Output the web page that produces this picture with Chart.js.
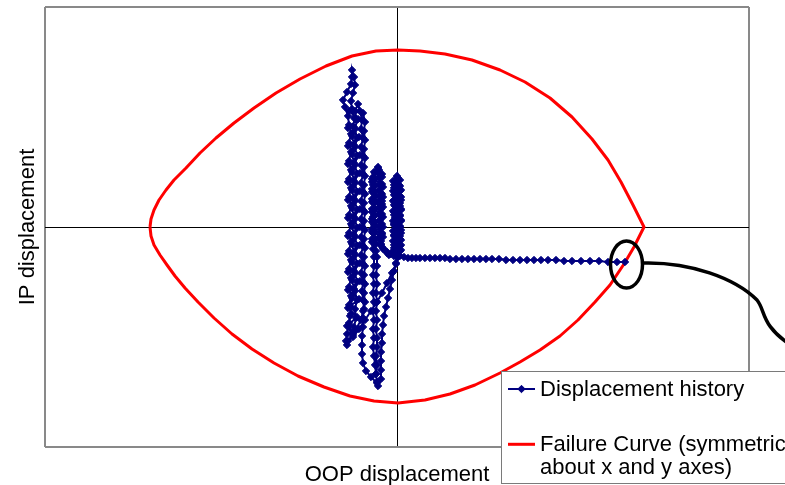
<!DOCTYPE html>
<html>
<head>
<meta charset="utf-8">
<script src="https://cdn.jsdelivr.net/npm/chart.js@4.4.1/dist/chart.umd.min.js"></script>
<style>
  html, body { margin: 0; padding: 0; background: #fff; overflow: hidden; }
  canvas { display: block; }
</style>
</head>
<body>
<canvas id="chart" width="785" height="485"></canvas>
<script>
// ---- text ----
const xTitle = 'OOP displacement';
const yTitle = 'IP displacement';
const historyLabel = 'Displacement history';
const failureLabel = ['Failure Curve (symmetric', 'about x and y axes)'];

// ---- axis extents (symmetric, no tick labels) ----
const xRange = [-35.2, 35.2];
const yRange = [-22, 22];
const axisTicksX = [-35.2, 0, 35.2];
const axisTicksY = [-22, 0, 22];

// ---- failure envelope: upper arc left -> right, lower arc right -> left ----
const failureUpper = [
  [-24.7, 0], [-24.6, 0.8], [-24.3, 1.7], [-23.8, 2.7], [-23.1, 3.7], [-22.3, 4.7],
  [-21.1, 5.9], [-19.7, 7.4], [-18.1, 8.9], [-16.3, 10.4], [-14.3, 11.9], [-12.1, 13.4],
  [-9.7, 14.8], [-7.1, 16.1], [-4.5, 17.1], [-2.1, 17.6], [0.1, 17.7], [2.3, 17.6],
  [4.8, 17.3], [7.5, 16.7], [10.3, 15.7], [12.8, 14.5], [15.3, 12.9], [17.5, 11.0],
  [19.5, 8.8], [21.1, 6.7], [22.4, 4.5], [23.6, 2.2], [24.7, 0]
];
const failureLower = [
  [23.7, -2.0], [22.7, -3.7], [21.3, -5.8], [19.8, -7.5], [18.1, -9.3], [16.3, -10.9],
  [14.3, -12.3], [12.3, -13.5], [10.3, -14.6], [7.8, -15.8], [5.3, -16.7], [2.8, -17.3],
  [0.1, -17.6], [-2.3, -17.4], [-4.7, -16.9], [-7.3, -16.0], [-9.9, -14.9], [-12.3, -13.6],
  [-14.5, -12.2], [-16.5, -10.7], [-18.3, -9.1], [-19.9, -7.5], [-21.2, -6.1], [-22.2, -4.9],
  [-23.0, -3.8], [-23.7, -2.8], [-24.3, -1.8], [-24.6, -0.9], [-24.7, 0]
];

// ---- displacement history, in loading order ----
// small cycles about the origin
const cyclesOrigin = [
  [0.0, 0.0], [0.1, 0.6], [0.2, 1.2], [0.1, 1.8], [0.2, 2.4], [0.1, 3.0], [0.2, 3.6], [0.1, 4.2], [0.0, 4.8], [0.0, 5.1],
  [-0.2, 4.5], [-0.3, 3.9], [-0.2, 3.3], [-0.3, 2.7], [-0.2, 2.1], [-0.3, 1.5], [-0.2, 0.9], [-0.3, 0.3], [-0.2, -0.3],
  [-0.3, -0.9], [-0.2, -1.5], [-0.3, -2.1], [-0.2, -2.7],
  [0.3, -2.4], [0.4, -1.8], [0.3, -1.2], [0.4, -0.6], [0.3, 0.0], [0.4, 0.6], [0.3, 1.2], [0.4, 1.8], [0.3, 2.4],
  [0.4, 3.0], [0.3, 3.6], [0.2, 4.2], [0.1, 4.9],
  [0.0, 4.4], [0.1, 3.8], [0.0, 3.2], [0.1, 2.6], [0.0, 2.0], [0.1, 1.4], [0.0, 0.8], [0.1, 0.2], [0.0, -0.4],
  [0.1, -1.0], [0.0, -1.6], [0.1, -2.2], [0.0, -2.8],
  [0.4, -2.3], [-0.3, -1.8], [0.4, -1.3], [-0.3, -0.8], [0.4, -0.3], [-0.3, 0.2], [0.4, 0.7], [-0.3, 1.2],
  [0.4, 1.7], [-0.3, 2.2], [0.4, 2.7], [-0.3, 3.2], [0.4, 3.7], [-0.3, 4.2], [0.3, 4.7], [0.0, 5.0],
  [-0.4, 4.6], [0.3, 4.1], [-0.4, 3.6], [0.3, 3.1], [-0.4, 2.6], [0.3, 2.1], [-0.4, 1.6], [0.3, 1.1],
  [-0.4, 0.6], [0.3, 0.1], [-0.4, -0.4], [0.3, -0.9], [-0.4, -1.4], [0.3, -1.9], [-0.4, -2.4], [0.2, -2.9]
];
// first offset cycle
const cyclesOffset1 = [
  [-0.6, -2.7], [-1.2, -2.3], [-1.6, -1.7], [-1.8, -1.1], [-1.7, -0.5], [-1.8, 0.1], [-1.7, 0.7], [-1.8, 1.3],
  [-1.7, 1.9], [-1.8, 2.5], [-1.7, 3.1], [-1.8, 3.7], [-1.7, 4.3], [-1.8, 4.9], [-1.9, 5.5], [-1.9, 6.0],
  [-2.2, 5.4], [-2.3, 4.8], [-2.2, 4.2], [-2.3, 3.6], [-2.2, 3.0], [-2.3, 2.4], [-2.2, 1.8], [-2.3, 1.2],
  [-2.3, 0.6], [-2.2, 0.0], [-2.3, -0.6], [-2.2, -1.2], [-2.2, -1.8], [-2.1, -2.4], [-2.0, -3.0],
  [-2.0, -3.9], [-2.1, -4.8], [-2.0, -5.7], [-2.1, -6.6], [-2.0, -7.5], [-2.1, -8.4], [-2.0, -9.3],
  [-2.1, -10.2], [-2.0, -11.1], [-2.0, -12.0], [-2.1, -12.9], [-2.0, -13.8], [-2.1, -14.7], [-2.0, -15.5],
  [-1.9, -15.9], [-1.6, -15.2], [-1.6, -14.3], [-1.6, -13.4], [-1.6, -12.5], [-1.5, -11.6], [-1.5, -10.7],
  [-1.4, -9.8], [-1.3, -8.9], [-1.1, -8.0], [-0.9, -7.1], [-0.7, -6.2], [-0.5, -5.3], [-0.3, -4.4],
  [-0.1, -3.6], [0.0, -3.0]
];
// repeated cycles at the same offset
const cyclesOffsetRepeat = [
  [-1.0, -2.6], [-1.5, -2.0], [-2.5, -1.5], [-1.4, -1.0], [-2.5, -0.5], [-1.4, 0.0], [-2.5, 0.5], [-1.4, 1.0],
  [-2.5, 1.5], [-1.4, 2.0], [-2.5, 2.5], [-1.4, 3.0], [-2.5, 3.5], [-1.4, 4.0], [-2.5, 4.5], [-1.5, 5.0],
  [-2.3, 5.5], [-1.9, 5.9],
  [-1.5, 5.3], [-2.5, 4.8], [-1.5, 4.3], [-2.5, 3.8], [-1.5, 3.3], [-2.5, 2.8], [-1.5, 2.3], [-2.5, 1.8],
  [-1.5, 1.3], [-2.5, 0.8], [-1.5, 0.3], [-2.5, -0.2], [-1.5, -0.7], [-2.5, -1.2], [-1.6, -1.8], [-1.0, -2.5],
  [-0.3, -2.9]
];
// second offset cycle
const cyclesOffset2 = [
  [-0.8, -2.8], [-1.4, -2.2], [-1.6, -1.4], [-1.5, -0.6], [-1.6, 0.2], [-1.5, 1.0], [-1.6, 1.8], [-1.5, 2.6],
  [-1.6, 3.4], [-1.6, 4.2], [-1.7, 5.0], [-1.8, 5.7],
  [-2.4, 5.0], [-2.4, 4.2], [-2.3, 3.4], [-2.4, 2.6], [-2.3, 1.8], [-2.4, 1.0], [-2.3, 0.2], [-2.4, -0.6],
  [-2.3, -1.4], [-2.4, -2.2], [-2.3, -3.0], [-2.3, -3.9], [-2.4, -4.8], [-2.3, -5.7], [-2.4, -6.6],
  [-2.3, -7.5], [-2.4, -8.4], [-2.3, -9.3], [-2.4, -10.2], [-2.3, -11.1], [-2.4, -12.0], [-2.3, -12.9],
  [-2.2, -13.8], [-2.1, -14.7], [-2.0, -15.6],
  [-2.6, -15.0], [-3.1, -14.4], [-3.4, -13.6], [-3.5, -12.7], [-3.5, -11.8], [-3.5, -10.9], [-3.4, -10.0],
  [-3.4, -9.1], [-3.3, -8.2]
];
// larger cycles, shifted further out of plane
const cyclesLarge = [
  [-3.4, -7.3], [-3.5, -6.4], [-3.4, -5.5], [-3.6, -4.6], [-3.4, -3.7], [-3.6, -2.8], [-3.4, -1.9], [-3.6, -1.0],
  [-3.4, -0.1], [-3.6, 0.8], [-3.4, 1.7], [-3.6, 2.6], [-3.4, 3.5], [-3.6, 4.4], [-3.4, 5.3], [-3.6, 6.2],
  [-3.4, 7.1], [-3.6, 8.0], [-3.4, 8.9], [-3.6, 9.8], [-3.5, 10.7], [-3.7, 11.6], [-3.9, 12.3],
  [-4.2, 11.6], [-4.0, 10.7], [-4.2, 9.8], [-4.0, 8.9], [-4.2, 8.0], [-4.0, 7.1], [-4.2, 6.2], [-4.0, 5.3],
  [-4.2, 4.4], [-4.0, 3.5], [-4.2, 2.6], [-4.0, 1.7], [-4.2, 0.8], [-4.0, -0.1], [-4.2, -1.0], [-4.0, -1.9],
  [-4.2, -2.8], [-4.0, -3.7], [-4.2, -4.6], [-4.0, -5.5], [-4.2, -6.4], [-4.0, -7.3], [-4.2, -8.2],
  [-4.1, -9.1], [-4.3, -10.0], [-4.5, -10.6],
  [-4.8, -9.6], [-4.6, -8.7], [-4.8, -7.8], [-4.6, -6.9], [-4.8, -6.0], [-4.6, -5.1], [-4.8, -4.2], [-4.6, -3.3],
  [-4.8, -2.4], [-4.6, -1.5], [-4.8, -0.6], [-4.6, 0.3], [-4.8, 1.2], [-4.6, 2.1], [-4.8, 3.0], [-4.6, 3.9],
  [-4.8, 4.8], [-4.6, 5.7], [-4.8, 6.6], [-4.6, 7.5], [-4.8, 8.4], [-4.6, 9.3], [-4.8, 10.2], [-4.9, 11.1],
  [-5.2, 12.0], [-5.4, 12.7], [-5.0, 13.5], [-4.6, 14.3], [-4.5, 15.0], [-4.5, 15.7],
  [-4.3, 15.0], [-4.2, 14.2], [-4.4, 13.4], [-4.6, 12.6], [-4.5, 11.8], [-4.3, 10.9], [-4.3, 10.0], [-4.5, 9.1],
  [-4.3, 8.2], [-4.5, 7.3], [-4.3, 6.4], [-4.5, 5.5], [-4.3, 4.6], [-4.5, 3.7], [-4.3, 2.8], [-4.5, 1.9],
  [-4.3, 1.0], [-4.5, 0.1], [-4.3, -0.8], [-4.5, -1.7], [-4.3, -2.6], [-4.5, -3.5], [-4.3, -4.4], [-4.5, -5.3],
  [-4.3, -6.2], [-4.5, -7.1], [-4.6, -8.0], [-4.7, -8.9], [-4.8, -9.8], [-5.0, -10.7], [-5.1, -11.4], [-5.0, -11.8]
];
// repeated large cycles
const cyclesLargeRepeat = [
  [-4.4, -10.8], [-5.0, -9.9], [-4.0, -9.0], [-4.9, -8.1], [-3.8, -7.2], [-4.9, -6.3], [-3.7, -5.4], [-4.9, -4.5],
  [-3.7, -3.6], [-4.9, -2.7], [-3.7, -1.8], [-4.9, -0.9], [-3.7, 0.0], [-4.9, 0.9], [-3.7, 1.8], [-4.9, 2.7],
  [-3.7, 3.6], [-4.9, 4.5], [-3.7, 5.4], [-4.9, 6.3], [-3.7, 7.2], [-4.9, 8.1], [-3.8, 9.0], [-4.9, 9.9],
  [-3.9, 10.8], [-4.8, 11.6],
  [-3.4, 11.4], [-3.2, 10.5], [-3.3, 9.6], [-3.2, 8.7], [-3.3, 7.8], [-3.2, 6.9], [-3.3, 6.0], [-3.2, 5.1],
  [-3.3, 4.2], [-3.2, 3.3], [-3.3, 2.4], [-3.2, 1.5], [-3.3, 0.6], [-3.2, -0.3], [-3.3, -1.2], [-3.2, -2.1],
  [-3.3, -3.0], [-3.2, -3.9], [-3.3, -4.8], [-3.2, -5.7], [-3.3, -6.6], [-3.2, -7.5], [-3.4, -8.4],
  [-3.6, -9.3], [-4.2, -10.4], [-4.9, -11.4]
];
// unloading back toward the origin
const returnPath = [
  [-4.4, -11.0], [-3.8, -10.2], [-3.2, -9.3], [-2.6, -8.4], [-2.0, -7.5], [-1.5, -6.6], [-1.0, -5.6],
  [-0.5, -4.6], [-0.1, -3.7]
];
// monotonic out-of-plane push to failure
const pushX = [0.3, 0.7, 1.1, 1.5, 1.9, 2.3, 2.8, 3.3, 3.8, 4.3, 4.8, 5.3, 5.9, 6.5, 7.1, 7.7, 8.3, 8.9,
  9.5, 10.2, 10.9, 11.6, 12.3, 13.0, 13.7, 14.4, 15.1, 15.9, 16.7, 17.5, 18.4, 19.3, 20.2, 21.1, 22.0, 22.8];
const pushY = [-2.9, -3.0, -3.1, -3.1, -3.1, -3.1, -3.1, -3.1, -3.1, -3.1, -3.1, -3.2, -3.2, -3.2, -3.2, -3.2,
  -3.2, -3.2, -3.2, -3.2, -3.3, -3.3, -3.3, -3.3, -3.3, -3.3, -3.3, -3.3, -3.4, -3.4, -3.4, -3.4, -3.4,
  -3.5, -3.5, -3.5];

// ---- assemble datasets ----
const toXY = p => ({ x: p[0], y: p[1] });
const historyData = [
  ...cyclesOrigin, ...cyclesOffset1, ...cyclesOffsetRepeat, ...cyclesOffset2,
  ...cyclesLarge, ...cyclesLargeRepeat, ...returnPath
].map(toXY).concat(pushX.map((x, i) => ({ x, y: pushY[i] })));
const failureData = [...failureUpper, ...failureLower].map(toXY);

const NAVY = '#000080';
const RED = '#ff0000';
const FRAME = '#898989';
const FONT = "'Liberation Sans', Arial, Helvetica, sans-serif";

Chart.defaults.font.family = FONT;
Chart.defaults.color = '#000';

// ellipse + leader line marking the failure point (last history point)
const failureCallout = {
  id: 'failureCallout',
  afterDatasetsDraw(chart) {
    const meta = chart.getDatasetMeta(0);
    const p = meta.data[meta.data.length - 1];
    if (!p) return;
    const { ctx } = chart;
    ctx.save();
    ctx.strokeStyle = '#000';
    ctx.lineWidth = 3.5;
    ctx.beginPath();
    ctx.ellipse(p.x + 1.5, p.y + 2.5, 16, 23.5, 0, 0, Math.PI * 2);
    ctx.stroke();
    ctx.beginPath();
    ctx.moveTo(p.x + 19, p.y + 1);
    ctx.bezierCurveTo(p.x + 65, p.y, p.x + 110, p.y + 16, p.x + 132, p.y + 38);
    ctx.bezierCurveTo(p.x + 141, p.y + 49, p.x + 135, p.y + 63, p.x + 167, p.y + 84);
    ctx.stroke();
    ctx.restore();
  }
};

// boxed legend in the lower right corner
const boxedLegend = {
  id: 'boxedLegend',
  afterDraw(chart) {
    const { ctx } = chart;
    const ds = chart.data.datasets;
    const left = 501.5, top = 371.5;
    ctx.save();
    ctx.fillStyle = '#fff';
    ctx.fillRect(left, top, chart.width - left + 10, 112);
    ctx.strokeStyle = '#7a7a7a';
    ctx.lineWidth = 1;
    ctx.strokeRect(left, top, chart.width - left + 10, 112);

    ctx.font = '22px ' + FONT;
    ctx.fillStyle = '#000';
    ctx.textBaseline = 'middle';
    ctx.textAlign = 'left';

    // history entry
    let y = 389;
    ctx.strokeStyle = ds[0].borderColor;
    ctx.lineWidth = ds[0].borderWidth;
    ctx.beginPath(); ctx.moveTo(508, y); ctx.lineTo(535, y); ctx.stroke();
    ctx.fillStyle = ds[0].pointBackgroundColor;
    ctx.strokeStyle = ds[0].pointBorderColor;
    ctx.lineWidth = 1;
    Chart.helpers.drawPoint(ctx, { pointStyle: 'rectRot', radius: ds[0].pointRadius, borderWidth: 1, rotation: 0 }, 521.5, y);
    ctx.fillStyle = '#000';
    ctx.fillText(ds[0].label, 540, y + 0.5);

    // failure curve entry (two lines)
    y = 444.3;
    ctx.strokeStyle = ds[1].borderColor;
    ctx.lineWidth = ds[1].borderWidth;
    ctx.beginPath(); ctx.moveTo(508, y); ctx.lineTo(535, y); ctx.stroke();
    ctx.fillStyle = '#000';
    failureLabel.forEach((line, i) => ctx.fillText(line, 540, y + 0.7 + i * 22.8));
    ctx.restore();
  }
};

const gridColor = c => (c.tick && c.tick.value === 0 ? '#000' : FRAME);
const gridWidth = c => (c.tick && c.tick.value === 0 ? 1 : 2);

new Chart(document.getElementById('chart'), {
  type: 'scatter',
  data: {
    datasets: [
      {
        label: historyLabel,
        data: historyData,
        showLine: true,
        borderColor: NAVY,
        backgroundColor: NAVY,
        borderWidth: 2,
        tension: 0,
        pointStyle: 'rectRot',
        pointRadius: 3.7,
        pointBorderWidth: 1,
        pointBackgroundColor: NAVY,
        pointBorderColor: NAVY
      },
      {
        label: failureLabel.join(' '),
        data: failureData,
        showLine: true,
        borderColor: RED,
        backgroundColor: RED,
        borderWidth: 3,
        borderJoinStyle: 'round',
        tension: 0,
        pointRadius: 0
      }
    ]
  },
  options: {
    responsive: false,
    animation: false,
    devicePixelRatio: 1,
    events: [],
    layout: { padding: { left: 14.8, right: 36, top: 7, bottom: -3 } },
    plugins: {
      legend: { display: false },
      tooltip: { enabled: false }
    },
    scales: {
      x: {
        type: 'linear',
        min: xRange[0],
        max: xRange[1],
        afterBuildTicks: s => { s.ticks = axisTicksX.map(v => ({ value: v })); },
        ticks: { display: false },
        grid: { drawTicks: false, color: gridColor, lineWidth: gridWidth },
        border: { display: false },
        title: { display: true, text: xTitle, color: '#000', font: { size: 22 }, padding: { top: 14.6, bottom: 0 } }
      },
      y: {
        type: 'linear',
        min: yRange[0],
        max: yRange[1],
        afterBuildTicks: s => { s.ticks = axisTicksY.map(v => ({ value: v })); },
        ticks: { display: false },
        grid: { drawTicks: false, color: gridColor, lineWidth: gridWidth },
        border: { display: false },
        title: { display: true, text: yTitle, color: '#000', font: { size: 22 }, padding: { top: 0, bottom: 3.8 } }
      }
    }
  },
  plugins: [failureCallout, boxedLegend]
});
</script>
</body>
</html>
